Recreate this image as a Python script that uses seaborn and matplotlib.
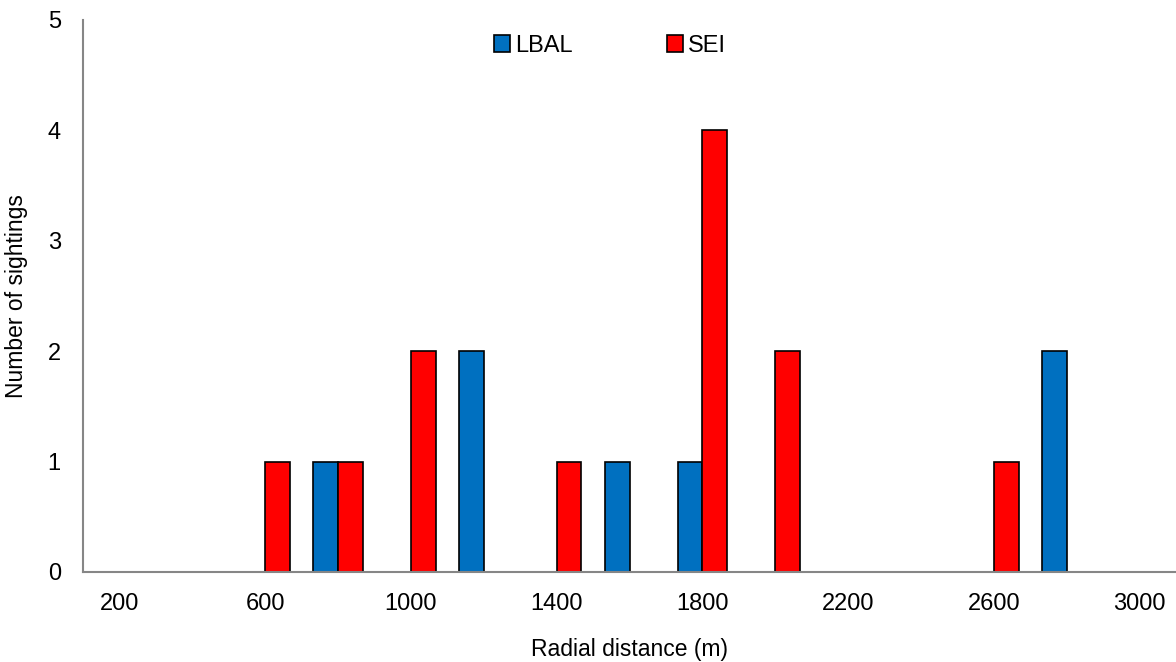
import matplotlib
matplotlib.use("Agg")
import matplotlib.pyplot as plt
from matplotlib.patches import Patch
import numpy as np
import pandas as pd
import seaborn as sns

# Data
distances = [200, 400, 600, 800, 1000, 1200, 1400, 1600, 1800, 2000, 2200, 2400, 2600, 2800, 3000]
lbal = [0, 0, 0, 1, 0, 2, 0, 1, 1, 0, 0, 0, 0, 2, 0]
sei = [0, 0, 1, 1, 2, 0, 1, 0, 4, 2, 0, 0, 1, 0, 0]
species = ["LBAL", "SEI"]
colors = {"LBAL": "#0070C0", "SEI": "#FF0000"}

df = pd.DataFrame({
    "distance": [str(d) for d in distances] * 2,
    "count": lbal + sei,
    "species": ["LBAL"] * len(distances) + ["SEI"] * len(distances),
})

sns.set_style("white")
plt.rcParams["font.family"] = ["Liberation Sans", "DejaVu Sans"]
plt.rcParams["text.color"] = "black"
plt.rcParams["axes.labelcolor"] = "black"
plt.rcParams["xtick.color"] = "black"
plt.rcParams["ytick.color"] = "black"

fig = plt.figure(figsize=(11.76, 6.62), dpi=100)
ax = fig.add_axes([83 / 1176, 1 - 572 / 662, 1 - 83 / 1176, (572 - 20) / 662])

order = [str(d) for d in distances]
sns.barplot(data=df, x="distance", y="count", hue="species", order=order,
            hue_order=species, palette=colors, saturation=1, width=0.68, gap=0,
            edgecolor="black", linewidth=1.2, legend=False, ax=ax)

n = len(distances)
ax.set_xlim(-0.5, n - 0.5)
ax.set_ylim(0, 5)
ax.set_yticks(range(6))

# tick marks on category boundaries, labels on every other category centre
ax.set_xticks(np.arange(-0.5, n, 2))
ax.set_xticklabels([])
ax.set_xticks(np.arange(0, n, 2), minor=True)
ax.set_xticklabels(order[::2], minor=True)
ax.tick_params(axis="x", which="major", length=7, width=1, color="#868686", direction="out")
ax.tick_params(axis="x", which="minor", length=0, pad=15, labelsize=17)
ax.tick_params(axis="y", length=6, width=1, color="#868686", direction="out", labelsize=17, pad=10)

for side in ["top", "right"]:
    ax.spines[side].set_visible(False)
for side in ["left", "bottom"]:
    ax.spines[side].set_color("#868686")
    ax.spines[side].set_linewidth(1.5)

ax.set_xlabel("Radial distance (m)", fontsize=16.5)
ax.set_ylabel("Number of sightings", fontsize=16.5)
ax.xaxis.set_label_coords(0.5, -0.12)
ax.yaxis.set_label_coords(-0.05, 0.5)

handles = [Patch(facecolor=colors[s], edgecolor="black", linewidth=1.2) for s in species]
ax.legend(handles, species, loc="upper center", bbox_to_anchor=(0.482, 1.012), ncol=2,
          frameon=False, fontsize=17, handlelength=0.7, handleheight=0.7,
          handletextpad=0.2, columnspacing=4.0)

fig.savefig("out.png", dpi=100)
